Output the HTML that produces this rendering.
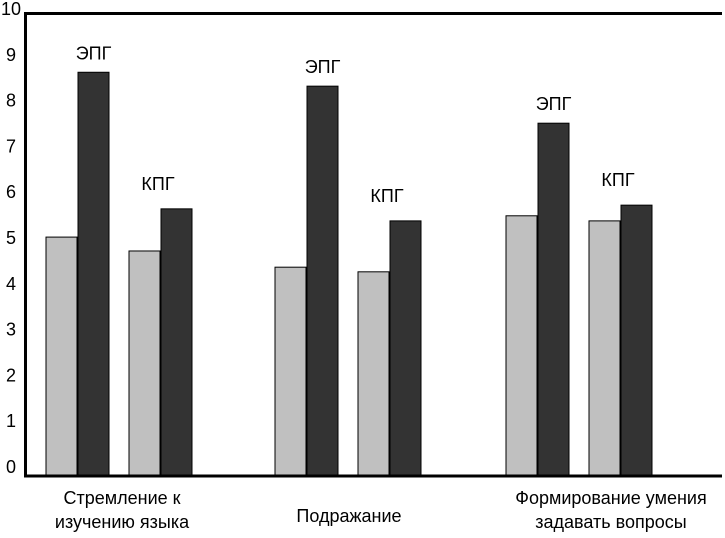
<!DOCTYPE html>
<html><head><meta charset="utf-8"><style>
body{margin:0;background:#fff;}
svg{display:block;font-family:"Liberation Sans",Arial,sans-serif;}
</style></head><body>
<svg id="c" width="725" height="538"></svg>
<script>
const categories=[["Стремление к","изучению языка"],["Подражание"],["Формирование умения","задавать вопросы"]];
const epgLight=[5.16,4.51,5.62];
const epgDark=[8.72,8.42,7.62];
const kpgLight=[4.86,4.41,5.51];
const kpgDark=[5.77,5.51,5.85];
const ticks=[0,1,2,3,4,5,6,7,8,9,10];
const NS="http://www.w3.org/2000/svg";
const svg=document.getElementById('c');
function y(v){return 476-v*46.3;}
function mk(t,a,p){const e=document.createElementNS(NS,t);for(const k in a)e.setAttribute(k,a[k]);(p||svg).appendChild(e);return e;}
const groupX=[46,275,506];
const labelShift=[2,0,31];
const bw=31;
ticks.forEach(t=>{const e=mk('text',{x:11,y:466-45.8*t+7,'text-anchor':'middle','font-size':18,fill:'#000'});e.textContent=t;

});
categories.forEach((c,i)=>{
 const g=groupX[i];
 const specs=[[g,epgLight[i],'#c0c0c0'],[g+32,epgDark[i],'#333'],[g+83,kpgLight[i],'#c0c0c0'],[g+115,kpgDark[i],'#333']];
 specs.forEach(s=>{const r=mk('rect',{x:s[0],y:y(s[1]),width:bw,height:476-y(s[1]),fill:s[2],stroke:'#000','stroke-width':1});
 
 });
 const l1=mk('text',{x:g+32+bw/2,y:y(epgDark[i])-13,'text-anchor':'middle','font-size':18});l1.textContent='ЭПГ';
 
 
 const l2=mk('text',{x:g+112,y:y(kpgDark[i])-19,'text-anchor':'middle','font-size':18});l2.textContent='КПГ';
 
 
 const cx=g+74+labelShift[i];
 c.forEach((line,j)=>{const t=mk('text',{x:cx,y:(c.length==1?522:504)+j*24,'text-anchor':'middle','font-size':18});t.textContent=line;
 
 });
});
const f=mk('path',{d:'M25.5 476 V13.5 H722',fill:'none',stroke:'#000','stroke-width':3});


const xa=mk('line',{x1:24,x2:722,y1:476,y2:476,stroke:'#000','stroke-width':3});


</script>
</body></html>
